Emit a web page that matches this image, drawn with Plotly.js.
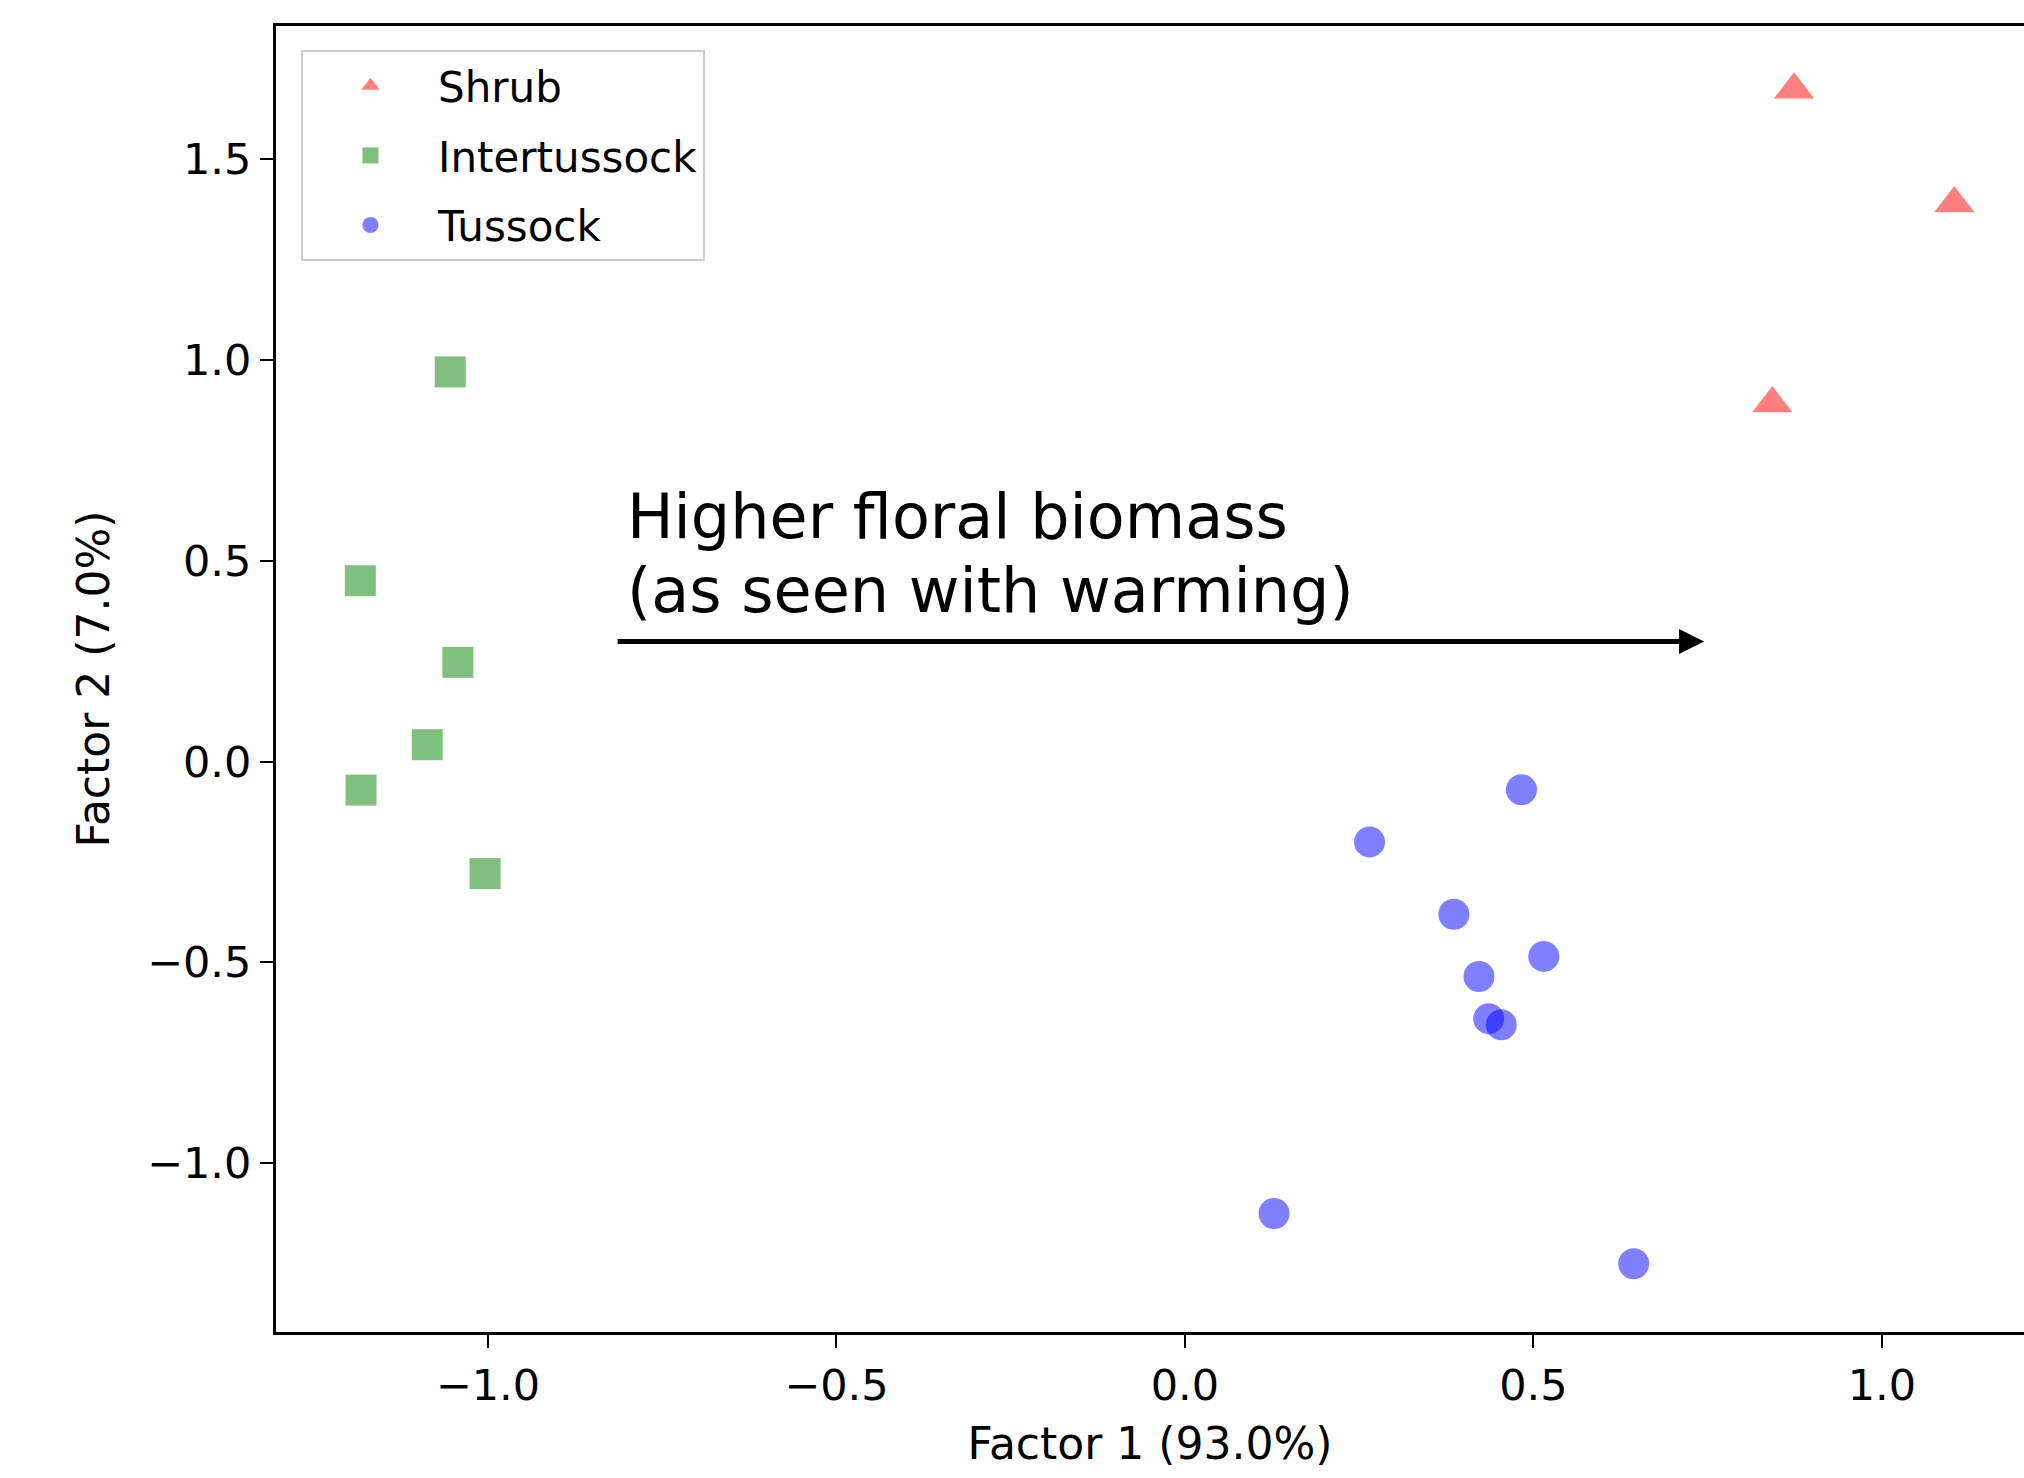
<!DOCTYPE html>
<html>
<head>
<meta charset="utf-8">
<script src="https://cdn.plot.ly/plotly-3.0.1.min.js"></script>
<style>html,body{margin:0;padding:0;background:#fff;overflow:hidden;}</style>
</head>
<body>
<div id="chart" style="width:2024px;height:1478px;"></div>
<script>
// Series names
const seriesNames = ["Shrub", "Intertussock", "Tussock"];

// Shrub (Factor 1, Factor 2)
const shrubX = [0.874, 1.104, 0.843];
const shrubY = [1.672, 1.389, 0.891];

// Intertussock
const interX = [-1.054, -1.183, -1.043, -1.087, -1.182, -1.004];
const interY = [0.970, 0.450, 0.247, 0.042, -0.071, -0.279];

// Tussock
const tussX = [0.483, 0.265, 0.386, 0.515, 0.422, 0.436, 0.454, 0.128, 0.644];
const tussY = [-0.070, -0.200, -0.380, -0.485, -0.535, -0.640, -0.655, -1.125, -1.250];

// Tick values
const tickVals = [-1.0, -0.5, 0.0, 0.5, 1.0, 1.5];

const FONT = "DejaVu Sans, Verdana, sans-serif";

const traces = [
  {x: shrubX, y: shrubY, name: seriesNames[0], type: "scatter", mode: "markers", legendgroup: "a",
   marker: {symbol: "triangle-up", size: 35, color: "red", opacity: 0.5, line: {width: 0}}},
  {x: interX, y: interY, name: seriesNames[1], type: "scatter", mode: "markers", legendgroup: "b",
   marker: {symbol: "square", size: 31, color: "#008000", opacity: 0.5, line: {width: 0}}},
  {x: tussX, y: tussY, name: seriesNames[2], type: "scatter", mode: "markers", legendgroup: "c",
   marker: {symbol: "circle", size: 31, color: "blue", opacity: 0.5, line: {width: 0}}}
];

const layout = {
  width: 2024, height: 1478,
  margin: {l: 276, r: 0, t: 26, b: 146},
  paper_bgcolor: "#ffffff", plot_bgcolor: "#ffffff",
  font: {family: FONT, size: 43, color: "#000"},
  showlegend: true,
  legend: {
    x: 0.0143, y: 0.9816, xanchor: "left", yanchor: "top",
    bgcolor: "rgba(255,255,255,0.8)", bordercolor: "#cccccc", borderwidth: 2,
    font: {family: FONT, size: 42, color: "#000"},
    traceorder: "grouped", tracegroupgap: 12, itemwidth: 125,
    entrywidth: 430, entrywidthmode: "pixels"
  },
  xaxis: {
    range: [-1.304, 1.204], tickvals: tickVals, tickformat: ".1f",
    showgrid: false, zeroline: false,
    showline: true, linecolor: "#000", linewidth: 3, mirror: true,
    ticks: "outside", ticklen: 13, tickwidth: 2, tickcolor: "#000",
    tickfont: {family: FONT, size: 43, color: "#000"},
    title: {text: "Factor 1 (93.0%)", font: {family: FONT, size: 44, color: "#000"}, standoff: 20}
  },
  yaxis: {
    range: [-1.42, 1.831], tickvals: tickVals, tickformat: ".1f",
    showgrid: false, zeroline: false,
    showline: true, linecolor: "#000", linewidth: 3, mirror: false,
    ticks: "outside", ticklen: 13, tickwidth: 2, tickcolor: "#000",
    tickfont: {family: FONT, size: 43, color: "#000"},
    title: {text: "Factor 2 (7.0%)", font: {family: FONT, size: 44, color: "#000"}, standoff: 24}
  },
  annotations: [
    {x: 0.745, y: 0.299, ax: -0.816, ay: 0.299, xref: "x", yref: "y", axref: "x", ayref: "y",
     showarrow: true, arrowhead: 2, arrowsize: 1.0, arrowwidth: 5, arrowcolor: "#000", text: ""},
    {x: -0.803, y: 0.611, xref: "x", yref: "y", xanchor: "left", yanchor: "middle", showarrow: false,
     text: "Higher floral biomass", font: {family: FONT, size: 62, color: "#000"}},
    {x: -0.803, y: 0.425, xref: "x", yref: "y", xanchor: "left", yanchor: "middle", showarrow: false,
     text: "(as seen with warming)", font: {family: FONT, size: 62, color: "#000"}}
  ]
};

Plotly.newPlot("chart", traces, layout, {displayModeBar: false, responsive: false});
</script>
</body>
</html>
